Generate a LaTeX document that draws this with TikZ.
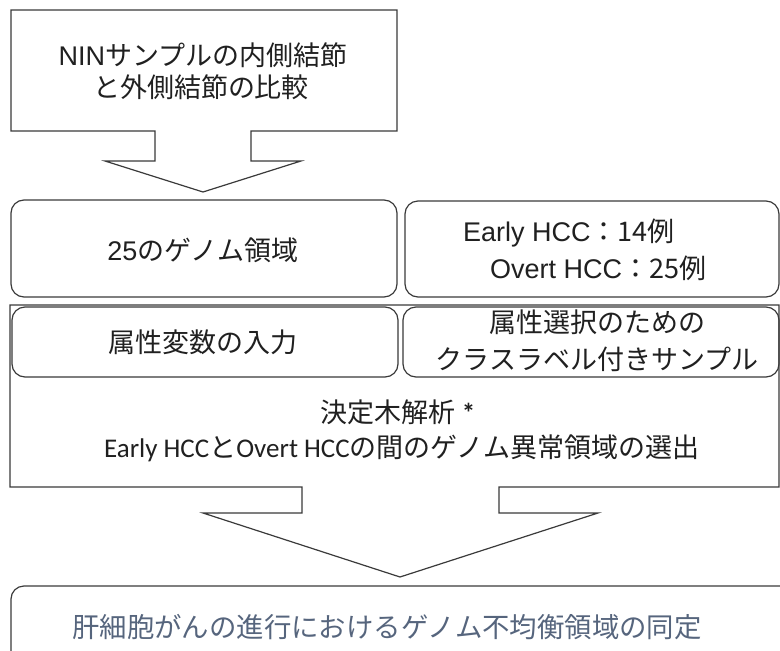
\documentclass[tikz,border=0pt]{standalone}
\usepackage{fontspec}
\setmainfont{Liberation Sans}
\newfontfamily\cjk{Noto Sans CJK JP}
\newfontfamily\calfont{Carlito}
\definecolor{linec}{HTML}{3A3A3A}
\definecolor{textc}{HTML}{202020}
\definecolor{bluegray}{HTML}{56657D}
\tikzset{
  outline/.style={draw=linec, line width=1.2pt, fill=white, line join=miter},
  rbox/.style={draw=linec, line width=1.2pt, rounded corners=13pt},
  txt/.style={inner sep=0pt, text=textc, font=\fontsize{27}{32}\selectfont},
  txtb/.style={inner sep=0pt, text=bluegray, font=\fontsize{27.4}{33}\selectfont}
}
\begin{document}
\begin{tikzpicture}[x=1pt,y=-1pt]
\useasboundingbox (0,0) rectangle (780,651);
\clip (0,0) rectangle (780,651);
% top box with block arrow
\draw[outline] (11,10) -- (397,10) -- (397,131) -- (251,131) -- (251,161) -- (301,161)
  -- (203,192) -- (105,161) -- (155,161) -- (155,131) -- (11,131) -- cycle;
\node[txt] (t1) at (203,55) {NIN\cjk{サンプルの内側結節}};
\node[txt] (t2) at (201,87) {\cjk{と外側結節の比較}};
% row 1
\draw[rbox] (11,200) rectangle (397,297);
\draw[rbox] (405,201) rectangle (779,297);
\node[txt] (g25) at (203,250) {25\cjk{のゲノム領域}};
\node[txt, anchor=west] (e14) at (463,233) {Early HCC\cjk{：}14\cjk{例}};
\node[txt, anchor=west] (o25) at (490,268) {Overt HCC\cjk{：}25\cjk{例}};
% big box with block arrow
\draw[outline] (10,305) -- (779,305) -- (779,487) -- (499,487) -- (499,513) -- (598,513)
  -- (400,577) -- (203,513) -- (302,513) -- (302,487) -- (10,487) -- cycle;
\draw[rbox] (12,307) rectangle (398,377);
\draw[rbox] (403,307) rectangle (779,377);
\node[txt] (attr) at (203,342) {\cjk{属性変数の入力}};
\node[txt] (sel1) at (597,322) {\cjk{属性選択のための}};
\node[txt] (sel2) at (597,359) {\cjk{クラスラベル付きサンプル}};
\node[txt] (dt1) at (398,412) {\cjk{決定木解析}\calfont{ \bfseries *}};
\node[txt] (dt2) at (402,448) {\calfont{Early HCC}\cjk{と}\calfont{Overt HCC}\cjk{の間のゲノム異常領域の選出}};
% bottom box
\draw[rbox] (11,586) rectangle (795,670);
\node[txtb] (res) at (387,627) {\cjk{肝細胞がんの進行におけるゲノム不均衡領域の同定}};
\end{tikzpicture}
\end{document}
